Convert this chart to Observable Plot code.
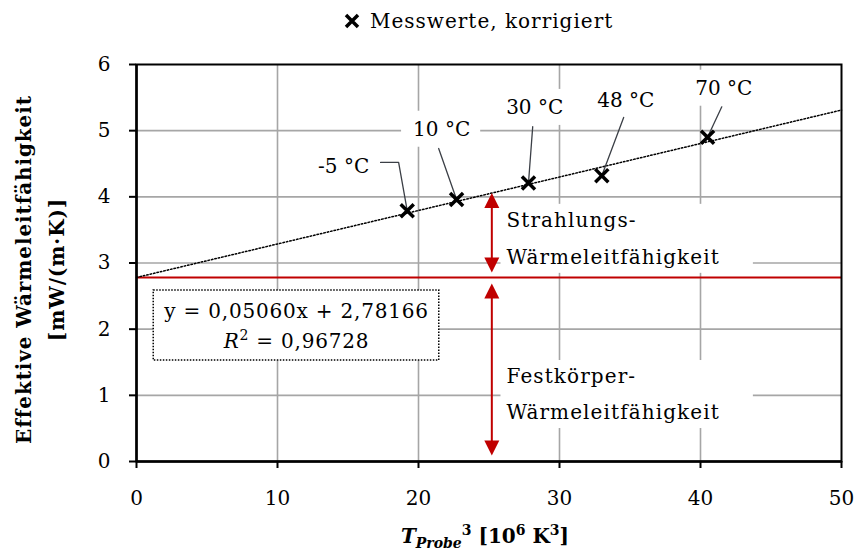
<!DOCTYPE html>
<html>
<head>
<meta charset="utf-8">
<script src="https://cdn.jsdelivr.net/npm/d3@7"></script>
<script src="https://cdn.jsdelivr.net/npm/@observablehq/plot@0.6"></script>
<style>
  html, body { margin: 0; padding: 0; background: #fff; }
  #wrap { position: relative; width: 856px; height: 553px; font-family: "DejaVu Serif", serif; color: #000; }
  #legend { position: absolute; left: 0; top: 0; width: 856px; height: 40px; }
  #legend .item { position: absolute; left: 343px; top: 9px; display: flex; align-items: center; font-size: 20px; letter-spacing: 1px; white-space: nowrap; }
  #legend svg { margin-right: 9px; }
  #chart { position: absolute; left: 0; top: 40px; }
  #xtitle { position: absolute; left: 485px; top: 523px; transform: translateX(-50%); font-size: 20px; font-weight: bold; white-space: nowrap; line-height: 1; }
  #xtitle sub { font-size: 70%; vertical-align: -0.35em; }
  #xtitle sup { font-size: 70%; vertical-align: 0.55em; }
  g[aria-description="share"] text { letter-spacing: 1.1px; }
  g[aria-description="equation"] text { letter-spacing: 0.8px; }
  g[aria-description="ytitle"] text { letter-spacing: 0.9px; }
</style>
</head>
<body>
<div id="wrap">
  <div id="legend"><div class="item"><svg width="18" height="18" viewBox="-9 -9 18 18"><path d="M-6,-6L6,6M-6,6L6,-6" stroke="#000" stroke-width="3.5" fill="none"/></svg><span>Messwerte, korrigiert</span></div></div>
  <div id="chart"></div>
  <div id="xtitle"><i>T</i><sub><i>Probe</i></sub><sup>3</sup> [10<sup>6</sup> K<sup>3</sup>]</div>
</div>
<script>
// Measured effective thermal conductivity vs. cube of sample temperature
const tProbe3 = [19.2, 22.7, 27.8, 33.0, 40.5];          // 10^6 K^3
const lambdaEff = [3.79, 3.96, 4.21, 4.32, 4.90];         // mW/(m·K)
const tempLabels = ["-5 °C", "10 °C", "30 °C", "48 °C", "70 °C"];

// Linear regression of the measurements
const slope = 0.05060;
const intercept = 2.78166;
const rSquared = 0.96728;

const xTicks = [0, 10, 20, 30, 40, 50];
const yTicks = [0, 1, 2, 3, 4, 5, 6];

const points = tProbe3.map((x, i) => ({x, y: lambdaEff[i], label: tempLabels[i]}));

// Where each temperature label sits, and the bend of its leader line (data units)
const calloutLayout = [
  {tx: 14.69, ty: 4.46, path: [[17.31, 4.52], [18.59, 4.52]]},
  {tx: 21.64, ty: 5.02, path: [[21.43, 4.73]]},
  {tx: 28.24, ty: 5.35, path: [[28.10, 5.06]]},
  {tx: 34.70, ty: 5.46, path: [[34.55, 5.20]]},
  {tx: 41.65, ty: 5.64, path: [[41.51, 5.36]]}
];
const calloutText = points.map((p, i) => ({x: calloutLayout[i].tx, y: calloutLayout[i].ty, label: p.label}));
const leaders = points.flatMap((p, i) =>
  [...calloutLayout[i].path.map(([x, y]) => ({x, y, k: i})), {x: p.x, y: p.y, k: i}]);

const fmt = v => v.toFixed(5).replace(".", ",");
const trend = [xTicks[0], xTicks[xTicks.length - 1]].map(x => ({x, y: intercept + slope * x}));

const red = "#c00000";
const arrowX = 25.2;
const trendAtArrow = intercept + slope * arrowX;

// filled arrowheads with the tip at the anchor point
const tipUp = {draw(c) { c.moveTo(0, 0); c.lineTo(7.5, 15); c.lineTo(-7.5, 15); c.closePath(); }};
const tipDown = {draw(c) { c.moveTo(0, 0); c.lineTo(7.5, -15); c.lineTo(-7.5, -15); c.closePath(); }};
const head = (y, up, inset) => Plot.dot([{x: arrowX, y}], {
  x: "x", y: "y", symbol: up ? tipUp : tipDown, fill: red, stroke: "none", dy: up ? inset : -inset
});

const svg = Plot.plot({
  width: 856,
  height: 470,
  marginTop: 24,
  marginBottom: 49,
  marginLeft: 136,
  marginRight: 15,
  style: {fontFamily: "DejaVu Serif, serif", fontSize: "20px", color: "#000", background: "#fff"},
  x: {domain: [0, 50]},
  y: {domain: [0, 6]},
  marks: [
    // grid
    Plot.ruleY(yTicks.slice(1, -1), {stroke: "#a6a6a6", strokeWidth: 1.6}),
    Plot.ruleX(xTicks.slice(1, -1), {stroke: "#a6a6a6", strokeWidth: 1.6}),

    // regression equation
    Plot.text([`y = ${fmt(slope)}x + ${fmt(intercept)}\nR2 = ${fmt(rSquared)}`], {
      frameAnchor: "top-left", dx: 160, dy: 259, textAnchor: "middle", lineAnchor: "middle",
      lineHeight: 1.5, fontSize: 20, ariaDescription: "equation"
    }),

    // the two conductivity shares
    Plot.text(["Strahlungs-\nWärmeleitfähigkeit"], {
      frameAnchor: "top-left", dx: 370, dy: 169, textAnchor: "start", lineAnchor: "middle",
      lineHeight: 1.85, fontSize: 20, ariaDescription: "share"
    }),
    Plot.text(["Festkörper-\nWärmeleitfähigkeit"], {
      frameAnchor: "top-left", dx: 370, dy: 325, textAnchor: "start", lineAnchor: "middle",
      lineHeight: 1.8, fontSize: 20, ariaDescription: "share"
    }),

    // temperature labels
    Plot.text(calloutText, {x: "x", y: "y", text: "label", fontSize: 20, ariaDescription: "callout"}),

    // solid-conduction level and the regression line
    Plot.ruleY([intercept], {stroke: red, strokeWidth: 2}),
    Plot.line(trend, {x: "x", y: "y", stroke: "#000", strokeWidth: 1.5, strokeDasharray: "1.5 2"}),

    // double-headed arrows (y1 = upper end, y2 = lower end)
    Plot.ruleX([{x: arrowX, y1: trendAtArrow, y2: intercept}], {x: "x", y1: "y1", y2: "y2", stroke: red, strokeWidth: 2, insetTop: 8, insetBottom: 10}),
    Plot.ruleX([{x: arrowX, y1: intercept, y2: 0}], {x: "x", y1: "y1", y2: "y2", stroke: red, strokeWidth: 2, insetTop: 12, insetBottom: 12}),
    head(trendAtArrow, true, 0),
    head(intercept, false, 5),
    head(intercept, true, 6),
    head(0, false, 6),

    // leader lines
    Plot.line(leaders, {x: "x", y: "y", z: "k", stroke: "#3b3f46", strokeWidth: 1.3}),

    // measurements
    Plot.dot(points, {x: "x", y: "y", symbol: "times", r: 6, stroke: "#000", strokeWidth: 3.5}),

    // axes and frame
    Plot.frame({stroke: "#000", strokeWidth: 2}),
    Plot.ruleY([0], {stroke: "#000", strokeWidth: 2.5}),
    Plot.ruleX([0], {stroke: "#000", strokeWidth: 2.5}),
    Plot.axisX(xTicks, {tickSize: 7, tickPadding: 22, strokeWidth: 2, fontSize: 20, tickFormat: d => String(d), label: null}),
    Plot.axisY(yTicks, {tickSize: 7, tickPadding: 19, strokeWidth: 2, fontSize: 20, tickFormat: d => String(d), label: null}),
    Plot.text(["Effektive Wärmeleitfähigkeit\n[mW/(m·K)]"], {
      frameAnchor: "left", dx: -100, dy: 6.5, rotate: -90, textAnchor: "middle", lineAnchor: "middle",
      lineHeight: 1.65, fontSize: 20, fontWeight: "bold", ariaDescription: "ytitle"
    })
  ]
});

document.getElementById("chart").append(svg);

const NS = "http://www.w3.org/2000/svg";

// italic R with a raised 2 in the coefficient of determination
const eqText = svg.querySelector('g[aria-description="equation"] text');
if (eqText) {
  const spans = eqText.querySelectorAll("tspan");
  const line2 = spans[spans.length - 1];
  const rest = line2.textContent.slice(2);
  line2.textContent = "";
  const r = document.createElementNS(NS, "tspan");
  r.setAttribute("font-style", "italic");
  r.textContent = "R";
  const sup = document.createElementNS(NS, "tspan");
  sup.setAttribute("font-size", "14");
  sup.setAttribute("dy", "-8");
  sup.textContent = "2";
  const tail = document.createElementNS(NS, "tspan");
  tail.setAttribute("dy", "8");
  tail.textContent = rest;
  line2.append(r, sup, tail);
}

// background boxes behind text blocks
function boxes(label, pad, attrs) {
  svg.querySelectorAll(`g[aria-description="${label}"] text`).forEach(t => {
    const b = t.getBBox();
    const rect = document.createElementNS(NS, "rect");
    rect.setAttribute("x", b.x - pad[3]);
    rect.setAttribute("y", b.y - pad[0]);
    rect.setAttribute("width", b.width + pad[1] + pad[3]);
    rect.setAttribute("height", b.height + pad[0] + pad[2]);
    const tr = t.getAttribute("transform");
    if (tr) rect.setAttribute("transform", tr);
    for (const [k, v] of Object.entries(attrs)) rect.setAttribute(k, v);
    t.parentNode.insertBefore(rect, t);
  });
}
boxes("equation", [9, 10, 7, 10], {fill: "#fff", stroke: "#000", "stroke-width": 1.5, "stroke-dasharray": "1.5 1.5"});
boxes("share", [4, 33, 4, 6], {fill: "#fff", stroke: "none"});
boxes("callout", [6, 10, 6, 12], {fill: "#fff", stroke: "none"});
</script>
</body>
</html>
